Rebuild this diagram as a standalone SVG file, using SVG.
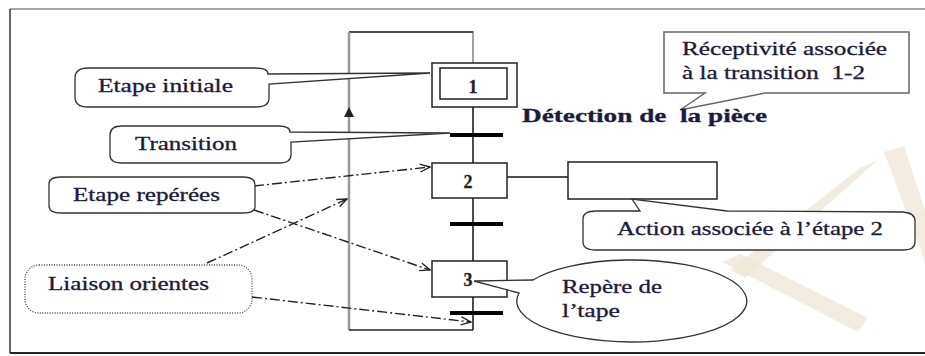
<svg xmlns="http://www.w3.org/2000/svg" width="925" height="356" viewBox="0 0 925 356">
<style>
.t{font-family:"Liberation Serif","Times New Roman",serif;font-size:18px;fill:#1c1c3a;stroke:#1c1c3a;stroke-width:0.3;white-space:pre}
.b{font-weight:bold}
.n{font-family:"Liberation Serif","Times New Roman",serif;font-size:18px;font-weight:bold;fill:#222;stroke:#222;stroke-width:0.3;text-anchor:middle}
.box{fill:#fff;stroke:#222;stroke-width:1.5}
.call{fill:#fff;stroke:#333;stroke-width:1.3}
.bar{stroke:#000;stroke-width:4}
.ln{stroke:#111;stroke-width:1.5;fill:none}
.dd{fill:none;stroke:#222;stroke-width:1.4;stroke-dasharray:10 3 2 3}
.wm{fill:#ede7d6;opacity:0.75}
</style>
<defs>
<marker id="arr" viewBox="0 0 12 10" refX="11" refY="5" markerWidth="12" markerHeight="10" markerUnits="userSpaceOnUse" orient="auto">
<path d="M1,1 L11,5 L1,9" fill="none" stroke="#222" stroke-width="1.3"/>
</marker>
</defs>
<rect width="925" height="356" fill="#fff"/>
<g id="watermark">
<polygon class="wm" points="884,152 904,146 925,210 925,262"/>
<polygon class="wm" points="860,168 878,160 745,278 730,270"/>
<polygon class="wm" points="722,262 740,254 868,318 858,332"/>
</g>
<g id="frame">
<line x1="10" y1="9" x2="925" y2="9" stroke="#888" stroke-width="1.5"/>
<line x1="10" y1="9" x2="10" y2="353" stroke="#333" stroke-width="1.5"/>
<line x1="10" y1="353" x2="925" y2="353" stroke="#222" stroke-width="2"/>
</g>
<g id="connectors">
<path d="M473,63 V32 H349" fill="none" stroke="#999" stroke-width="1.8"/>
<line x1="349" y1="32" x2="473" y2="32" stroke="#333" stroke-width="1.3"/>
<line x1="349" y1="32" x2="349" y2="330" stroke="#9a9a9a" stroke-width="2.5"/>
<line x1="349" y1="330" x2="473" y2="330" stroke="#222" stroke-width="1.5"/>
<polygon points="349,107 344,117 354,117" fill="#222"/>
<line class="ln" x1="473" y1="107" x2="473" y2="163"/>
<line class="ln" x1="473" y1="198" x2="473" y2="261"/>
<line class="ln" x1="473" y1="297" x2="473" y2="330"/>
<line class="ln" x1="507" y1="177" x2="568" y2="177"/>
<line class="bar" x1="450" y1="135" x2="503" y2="135"/>
<line class="bar" x1="450" y1="224" x2="503" y2="224"/>
<line class="bar" x1="450" y1="313" x2="503" y2="313"/>
<path class="dd" d="M254,186 L430,167" marker-end="url(#arr)"/>
<path class="dd" d="M254,210 L430,270" marker-end="url(#arr)"/>
<path class="dd" d="M207,263 L347,199" marker-end="url(#arr)"/>
<path class="dd" d="M252,297 L471,322" marker-end="url(#arr)"/>
</g>
<g id="step1">
<rect class="box" x="432" y="63" width="85" height="44"/>
<rect class="box" x="440" y="68" width="67" height="31"/>
<text class="n" x="473" y="93">1</text>
</g>
<g id="step2">
<rect class="box" x="432" y="163" width="75" height="35"/>
<text class="n" x="468" y="188">2</text>
</g>
<g id="step3">
<rect class="box" x="432" y="261" width="75" height="36"/>
<text class="n" x="468" y="286">3</text>
</g>
<g id="action2">
<rect class="box" x="568" y="162" width="149" height="37"/>
</g>
<g id="callout-etape-initiale">
<path class="call" d="M88,68 L255,68 Q268,68 268,74 L430,73 L269,84 L269,98 Q269,107 256,107 L88,107 Q75,107 75,97 L75,78 Q75,68 88,68 Z"/>
<text class="t" x="98" y="92" textLength="135" lengthAdjust="spacingAndGlyphs">Etape initiale</text>
</g>
<g id="callout-transition">
<path class="call" d="M122,126 L278,126 Q290,126 290,132 L450,133 L291,142 L291,155 Q291,163 279,163 L122,163 Q110,163 110,155 L110,135 Q110,126 122,126 Z"/>
<text class="t" x="135" y="150" textLength="102" lengthAdjust="spacingAndGlyphs">Transition</text>
</g>
<g id="callout-etape-reperees">
<path class="call" d="M61,177 L243,177 Q255,177 255,185 L255,207 Q255,213 243,213 L61,213 Q49,213 49,206 L49,184 Q49,177 61,177 Z"/>
<text class="t" x="73" y="201" textLength="147" lengthAdjust="spacingAndGlyphs">Etape repérées</text>
</g>
<g id="callout-liaison">
<rect x="25" y="265" width="227" height="48" rx="14" fill="#fff" stroke="#444" stroke-width="1.3" stroke-dasharray="1 1.5"/>
<text class="t" x="48" y="290" textLength="161" lengthAdjust="spacingAndGlyphs">Liaison orientes</text>
</g>
<g id="callout-receptivite">
<path d="M664,32 H909 V93 H765 L680,110 L705,93 H664 Z" fill="#fff" stroke="#666" stroke-width="1.5"/>
<text class="t" x="682" y="55" textLength="205" lengthAdjust="spacingAndGlyphs">Réceptivité associée</text>
<text class="t" x="682" y="79" textLength="183" lengthAdjust="spacingAndGlyphs">à la transition  1-2</text>
</g>
<g id="label-detection">
<text class="t b" x="522" y="122" textLength="245" lengthAdjust="spacingAndGlyphs" style="font-size:19px">Détection de  la pièce</text>
</g>
<g id="callout-action">
<path class="call" d="M596,211 L640,211 L632,199 L727,211 L903,212 Q915,213 915,221 L915,242 Q915,250 903,250 L596,250 Q583,250 583,242 L583,219 Q583,211 596,211 Z"/>
<text class="t" x="617" y="235" textLength="266" lengthAdjust="spacingAndGlyphs">Action associée à l’étape 2</text>
</g>
<g id="callout-repere">
<path class="call" d="M533,280 A115,41 0 1,1 519,293 L474,281 Z"/>
<text class="t" x="562" y="293" textLength="100" lengthAdjust="spacingAndGlyphs">Repère de</text>
<text class="t" x="562" y="317" textLength="58" lengthAdjust="spacingAndGlyphs">l’tape</text>
</g>
</svg>
